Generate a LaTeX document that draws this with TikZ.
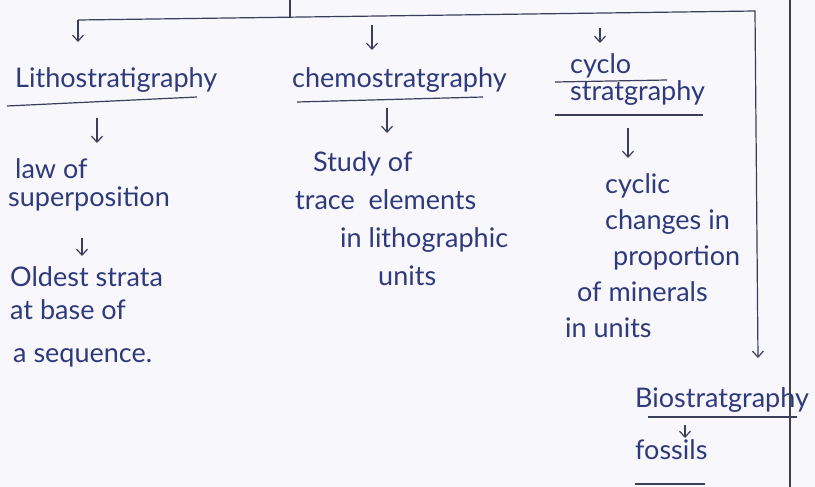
\documentclass[tikz,border=0pt]{standalone}
\usepackage{fontspec}
\setmainfont{Lato}
\usepackage{xcolor}
\usetikzlibrary{arrows.meta}

\definecolor{ink}{RGB}{46,58,124}
\definecolor{pencil}{RGB}{58,62,90}
\definecolor{paper}{RGB}{248,247,252}

\tikzset{
  hand/.style={text=ink, inner sep=0pt, align=left},
  arr/.style={draw=pencil, line width=1.2pt, -{Straight Barb[length=6pt,width=11pt]}},
  uline/.style={draw=pencil, line width=1.2pt}
}

\begin{document}
\begin{tikzpicture}[x=1pt,y=-1pt]
  \fill[paper] (0,0) rectangle (815,487);
  \useasboundingbox (0,0) rectangle (815,487);

  % margin rule of the page
  \draw[line width=1.4pt, black!75] (790,0) -- (790,487);

  % the four branches
  \node[hand, anchor=west, font=\fontsize{27}{30}\selectfont] (litho) at (15,80) {Lithostratigraphy};
  \node[hand, anchor=west, font=\fontsize{27}{30}\selectfont] (chemo) at (292,80) {chemostratgraphy};
  \node[hand, anchor=north west, font=\fontsize{27}{27}\selectfont] (cyclo) at (570,53) {cyclo\\stratgraphy};
  \node[hand, anchor=west, font=\fontsize{27}{30}\selectfont] (bio) at (635,400) {Biostratgraphy};

  % what each one is about
  \node[hand, anchor=north west, font=\fontsize{27}{28}\selectfont] (law) at (8,158)
    {\hspace*{7pt}law of\\superposition};
  \node[hand, anchor=north west, font=\fontsize{27}{33}\selectfont] (oldest) at (10,266)
    {Oldest strata\\at base of\\[10pt]\hspace*{3pt}a sequence.};
  \node[hand, anchor=north west, font=\fontsize{27}{38}\selectfont] (study) at (295,151)
    {\hspace*{18pt}Study of\\trace \ elements\\\hspace*{45pt}in lithographic\\\hspace*{83pt}units};
  \node[hand, anchor=north west, font=\fontsize{27}{36}\selectfont] (cyclic) at (565,173)
    {\hspace*{40pt}cyclic\\\hspace*{40pt}changes in\\\hspace*{48pt}proportion\\\hspace*{12pt}of minerals\\in units};
  \node[hand, anchor=west, font=\fontsize{27}{30}\selectfont] (fossils) at (635,450) {fossils};

  % top bracket
  \coordinate (root) at (290,0);
  \coordinate (fork) at (290,17);
  \coordinate (forkL) at (78,20);
  \coordinate (forkR) at (755,11);
  \coordinate (bioin) at (758,358);
  \draw[uline] (root) -- (fork);
  \draw[arr] (forkL) -- (forkR) -- (bioin);
  \draw[arr] (forkL) -- ++(0,22);
  \draw[arr] (chemo.west) ++(80,-55) -- ++(0,25);
  \draw[arr] (cyclo.north west) ++(30,-25) -- ++(0,15);

  % underlines
  \draw[uline] (litho.west) ++(-8,26) -- ++(190,-9);
  \draw[uline] (chemo.west) ++(5,22) -- ++(186,-5);
  \draw[uline] (cyclo.north west) ++(-15,29) -- ++(112,-2);
  \draw[uline] (cyclo.north west) ++(-15,62) -- ++(148,0);
  \draw[uline] (bio.west) ++(13,17) -- ++(149,0);
  \draw[uline] (fossils.west) ++(0,34) -- ++(70,0);

  % down the columns
  \draw[arr] (law.north west) ++(89,-40) -- ++(0,25);
  \draw[arr] (oldest.north west) ++(72,-28) -- ++(0,18);
  \draw[arr] (study.north west) ++(92,-43) -- ++(0,25);
  \draw[arr] (cyclic.north west) ++(63,-45) -- ++(0,30);
  \draw[arr] (fossils.west) ++(50,-25) -- ++(0,13);
\end{tikzpicture}
\end{document}
